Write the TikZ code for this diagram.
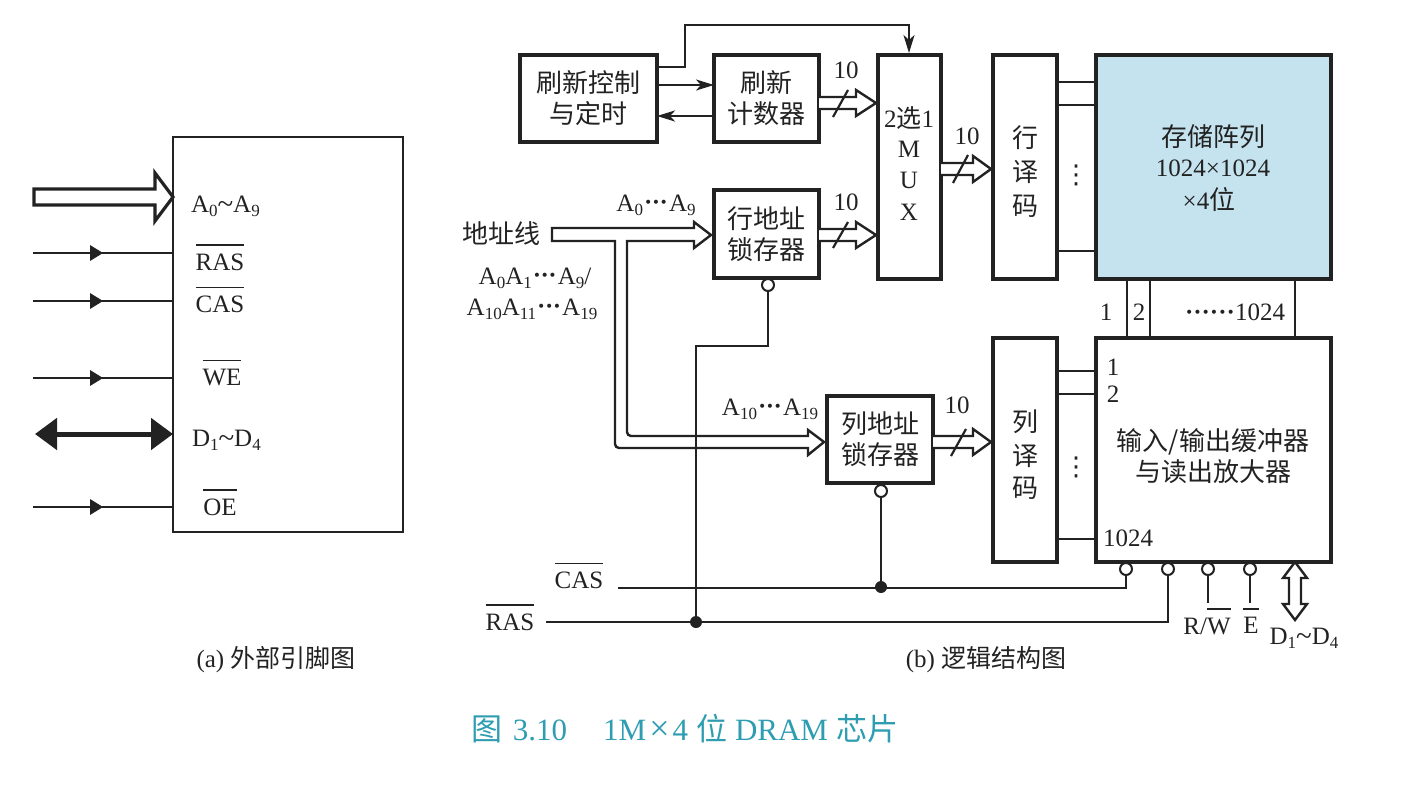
\documentclass[tikz,border=0pt]{standalone}
\usepackage{fontspec}
\setmainfont{Liberation Serif}
\newfontfamily\cjk{Noto Sans CJK SC}
\newfontfamily\symf{DejaVu Sans}
\usetikzlibrary{arrows.meta,calc}
\newcommand\lsub[1]{\raisebox{-4pt}{\fontsize{17}{17}\selectfont #1}}
\newcommand\ovl[1]{\leavevmode\vbox{\hrule height 1.5pt \kern 8pt\hbox{#1}}}
\newcommand\bigtilde{\raisebox{-1pt}{\fontsize{29}{29}\selectfont\char"7E}}
\newcommand\cdotsx{\raisebox{1pt}{\kern1pt\textbf{\textperiodcentered\kern-0.5pt\textperiodcentered\kern-0.5pt\textperiodcentered}\kern1pt}}
\definecolor{arrayblue}{HTML}{C5E3EE}
\definecolor{captionteal}{HTML}{2E9DB2}
\definecolor{ink}{HTML}{222222}
\tikzset{
  every node/.style={inner sep=0pt,outer sep=0pt,text=ink},
  boxa/.style={draw=ink,line width=4pt,minimum width=#1,align=center,font=\fontsize{26}{31}\selectfont\cjk},
  lbl/.style={font=\fontsize{25}{30}\selectfont,align=center},
  cjklbl/.style={font=\fontsize{26}{31}\selectfont\cjk,align=center},
  wire/.style={draw=ink,line width=2.2pt},
  hollow/.style={draw=ink,line width=2.4pt,fill=white,line join=miter},
  bubble/.style={circle,draw=ink,fill=white,line width=2pt,minimum size=12pt},
  jdot/.style={circle,fill=ink,minimum size=12pt},
  tipa/.style={-{Stealth[length=18pt,width=11pt,inset=5pt]}},
}
% start, end, half shaft, half head, head length
\newcommand\hollowR[5]{\draw[hollow] let \p1=(#1),\p2=(#2) in
  (\x1,\y1+#3pt) -- (\x2-#5pt,\y1+#3pt) -- (\x2-#5pt,\y1+#4pt) -- (\x2,\y1)
  -- (\x2-#5pt,\y1-#4pt) -- (\x2-#5pt,\y1-#3pt) -- (\x1,\y1-#3pt);}
\newcommand\pinhead[1]{\fill[ink] let \p1=(#1) in (\x1-6pt,\y1+8pt) -- (\x1+7pt,\y1) -- (\x1-6pt,\y1-8pt) -- cycle;}
\begin{document}
\begin{tikzpicture}[x=1pt,y=-1pt]
\useasboundingbox (0,0) rectangle (1410,795);

% ---------- (a) external pins
\node[draw=ink,line width=2.8pt,minimum width=230pt,minimum height=395pt] (chip) at (288,334.5) {};
\coordinate (pa) at (34,197);
\coordinate (pr) at (33,253);
\coordinate (pc) at (33,301);
\coordinate (pw) at (33,378);
\coordinate (pd) at (35,434);
\coordinate (po) at (33,507);
\draw[hollow,line width=3.2pt] let \p1=(pa),\p2=(chip.west |- pa) in
  (\x1,\y1+8pt) -- (\x2-18pt,\y1+8pt) -- (\x2-18pt,\y1+24pt) -- (\x2,\y1)
  -- (\x2-18pt,\y1-24pt) -- (\x2-18pt,\y1-8pt) -- (\x1,\y1-8pt) -- cycle;
\foreach \q in {pr,pc,pw,po}{
  \draw[wire,line width=2.6pt] (\q) -- (chip.west |- \q);
  \pinhead{$(\q)+(63,0)$}
}
\draw[draw=ink,line width=5pt,{Triangle[length=22pt,width=31pt]}-{Triangle[length=22pt,width=31pt]}] (pd) -- (chip.west |- pd);
\node[lbl,anchor=west] (la) at (191,206) {A\lsub{0}\bigtilde A\lsub{9}};
\node[lbl] (lr) at (220,257.5) {\ovl{RAS}};
\node[lbl] (lc) at (220,300) {\ovl{CAS}};
\node[lbl] (lw) at (222,373) {\ovl{WE}};
\node[lbl,anchor=west] (ld) at (192,440) {D\lsub{1}\bigtilde D\lsub{4}};
\node[lbl] (lo) at (220,502.5) {\ovl{OE}};

% ---------- (b) boxes
\node[boxa=137pt,minimum height=87pt] (ctl) at (588.5,98.5) {刷新控制\\与定时};
\node[boxa=105pt,minimum height=87pt] (cnt) at (766.5,98.5) {刷新\\计数器};
\node[boxa=63pt,minimum height=224pt] (mux) at (909.5,167) {};
\node[boxa=64pt,minimum height=224pt] (rdec) at (1025,167) {};
\node[boxa=235pt,minimum height=224pt,fill=arrayblue] (arr) at (1213.5,167) {};
\node[boxa=105pt,minimum height=88pt] (rlat) at (766.5,234) {\raisebox{-3pt}{行地址}\\\raisebox{-3pt}{锁存器}};
\node[boxa=106pt,minimum height=87pt] (clat) at (880,439.5) {列地址\\锁存器};
\node[boxa=64pt,minimum height=224pt] (cdec) at (1025,450) {};
\node[boxa=235pt,minimum height=224pt] (iob) at (1213.5,450) {};

% box texts
\node[lbl] (m1) at (909,118) {2{\cjk 选}1};
\node[lbl] (m2) at (909,149) {M};
\node[lbl] (m3) at (909,180) {U};
\node[lbl] (m4) at (909,212) {X};
\node[cjklbl] (r1) at (1025,138) {行};
\node[cjklbl] (r2) at (1025,172) {译};
\node[cjklbl] (r3) at (1025,206) {码};
\node[cjklbl] (c1) at (1025,422) {列};
\node[cjklbl] (c2) at (1025,456) {译};
\node[cjklbl] (c3) at (1025,488) {码};
\node[cjklbl] (a1) at (1213,137) {存储阵列};
\node[lbl] (a2) at (1213,168) {1024×1024};
\node[lbl] (a3) at (1209,200) {×4{\cjk\fontsize{26}{26}\selectfont 位}};
\node[cjklbl] (i1) at (1213,456) {输入/输出缓冲器\\与读出放大器};

% refresh wiring
\coordinate (t0) at (ctl.east |- 0,67);
\coordinate (t1) at (685,25);
\draw[wire,tipa] (t0) -- (t0 -| t1) -- (t1) -- (909,25) -- (909,53);
\coordinate (f0) at (ctl.east |- 0,85);
\draw[wire,tipa] (f0) -- (cnt.west |- f0);
\coordinate (b0) at (cnt.west |- 0,116);
\draw[wire,line width=2.6pt,tipa] (b0) -- (ctl.east |- b0);

% hollow bus arrows
\coordinate (h1) at (cnt.east |- 0,103);
\hollowR{h1}{$(mux.west |- h1)+(-2,0)$}{6}{13}{20}
\draw[wire] (833,117) -- (848,90);
\node[lbl] (n1) at (846,70) {10};
\coordinate (h2) at (rlat.east |- 0,235);
\hollowR{h2}{$(mux.west |- h2)+(-2,0)$}{6}{13}{20}
\draw[wire] (833,248) -- (848,222);
\node[lbl] (n2) at (846,202) {10};
\coordinate (h3) at (mux.east |- 0,169);
\hollowR{h3}{$(rdec.west |- h3)+(-2,0)$}{6}{13}{18}
\draw[wire] (953,183) -- (968,155);
\node[lbl] (n3) at (967,136) {10};
\coordinate (h4) at (clat.east |- 0,442);
\hollowR{h4}{$(cdec.west |- h4)+(-2,0)$}{6}{13}{18}
\draw[wire] (951,456) -- (966,429);
\node[lbl] (n4) at (957,405) {10};

% address bus T
\coordinate (ra) at ($(rlat.west |- 0,235)+(-3,0)$);
\coordinate (ca) at ($(clat.west |- 0,442)+(-3,0)$);
\draw[hollow,rounded corners=0pt] (552,228) -- (694,228) -- (694,222) -- (ra) -- (694,248) -- (694,241)
  -- (627,241) [rounded corners=4pt] -- (627,436) [rounded corners=0pt] -- (808,436) -- (808,430) -- (ca) -- (808,455) -- (808,448)
  [rounded corners=4pt] -- (615,448) [rounded corners=0pt] -- (615,241) -- (552,241) -- cycle;
\node[cjklbl] (addr) at (501,234) {地址线};
\node[lbl] (a09) at (656,205) {A\lsub{0}\cdotsx A\lsub{9}};
\node[lbl] (aall1) at (535,278) {A\lsub{0}A\lsub{1}\cdotsx A\lsub{9}/};
\node[lbl] (aall2) at (532,309) {A\lsub{10}A\lsub{11}\cdotsx A\lsub{19}};
\node[lbl] (a1019) at (770,409) {A\lsub{10}\cdotsx A\lsub{19}};

% control wiring
\node[bubble] (brl) at (768,285) {};
\node[bubble] (bcl) at (881,491) {};
\node[bubble] (bcas) at (1126,569) {};
\node[bubble] (bras) at (1168,569) {};
\node[bubble] (brw) at (1208,569) {};
\node[bubble] (be) at (1250,569) {};
\node[jdot] (jras) at (696,622) {};
\node[jdot] (jcas) at (881,587) {};
\coordinate (casl) at (618,588);
\coordinate (rasl) at (546,622);
\draw[wire] (brl.south) -- (768,346) -- (696,346) -- (jras.center);
\draw[wire,line width=2.6pt] (bcl.south) -- (jcas.center);
\draw[wire] (casl) -| (bcas.south);
\draw[wire] (rasl) -| (bras.south);
\coordinate (ew) at (1208,603);
\coordinate (ee) at (1250,603);
\draw[wire,line width=2.6pt] (brw.south) -- (ew);
\draw[wire,line width=2.6pt] (be.south) -- (ee);
\node[lbl] (lcas) at (579,576) {\ovl{CAS}};
\node[lbl] (lras) at (510,617.5) {\ovl{RAS}};

% decoder links
\foreach \y in {82,105,251}{\draw[wire] (rdec.east |- 0,\y) -- (arr.west |- 0,\y);}
\foreach \y in {371,394,539}{\draw[wire] (cdec.east |- 0,\y) -- (iob.west |- 0,\y);}
\foreach \x in {1127,1150,1295}{\draw[wire] (arr.south -| \x,0) -- (iob.north -| \x,0);}
\node[font=\fontsize{26}{26}\selectfont\symf] (v1) at (1076,175) {⋮};
\node[font=\fontsize{26}{26}\selectfont\symf] (v2) at (1076,467) {⋮};
\node[lbl] (t1l) at (1106,312) {1};
\node[lbl] (t2l) at (1139,312) {2};
\node[lbl] (t3l) at (1235,312) {\textbf{\textperiodcentered\textperiodcentered\textperiodcentered\textperiodcentered\textperiodcentered\textperiodcentered}1024};
\node[lbl] (i1l) at (1113,367) {1};
\node[lbl] (i2l) at (1113,394) {2};
\node[lbl] (i3l) at (1128,538) {1024};

% data arrow
\draw[hollow] (iob.south -| 1295,0) -- (1283,578) -- (1289,578) -- (1289,604) -- (1283,604) -- (1295,620)
   -- (1307,604) -- (1301,604) -- (1301,578) -- (1307,578) -- cycle;
\node[lbl] (lrw) at (1207,621.5) {R/\ovl{W}};
\node[lbl] (le) at (1251,621) {\ovl{E}};
\node[lbl] (ld2) at (1304,638) {D\lsub{1}\bigtilde D\lsub{4}};

% captions
\node[lbl] (capa) at (276,660) {(a) {\cjk 外部引脚图}};
\node[lbl] (capb) at (986,660) {(b) {\cjk 逻辑结构图}};
\node[font=\fontsize{31}{31}\selectfont,text=captionteal] (cap) at (685,729) {{\cjk 图}\kern10pt 3.10\hspace{36pt}1M{\fontsize{36}{36}\selectfont\kern3pt×\kern3pt}4\kern8pt{\cjk 位}\kern8pt DRAM\kern8pt{\cjk 芯片}};
\end{tikzpicture}
\end{document}
